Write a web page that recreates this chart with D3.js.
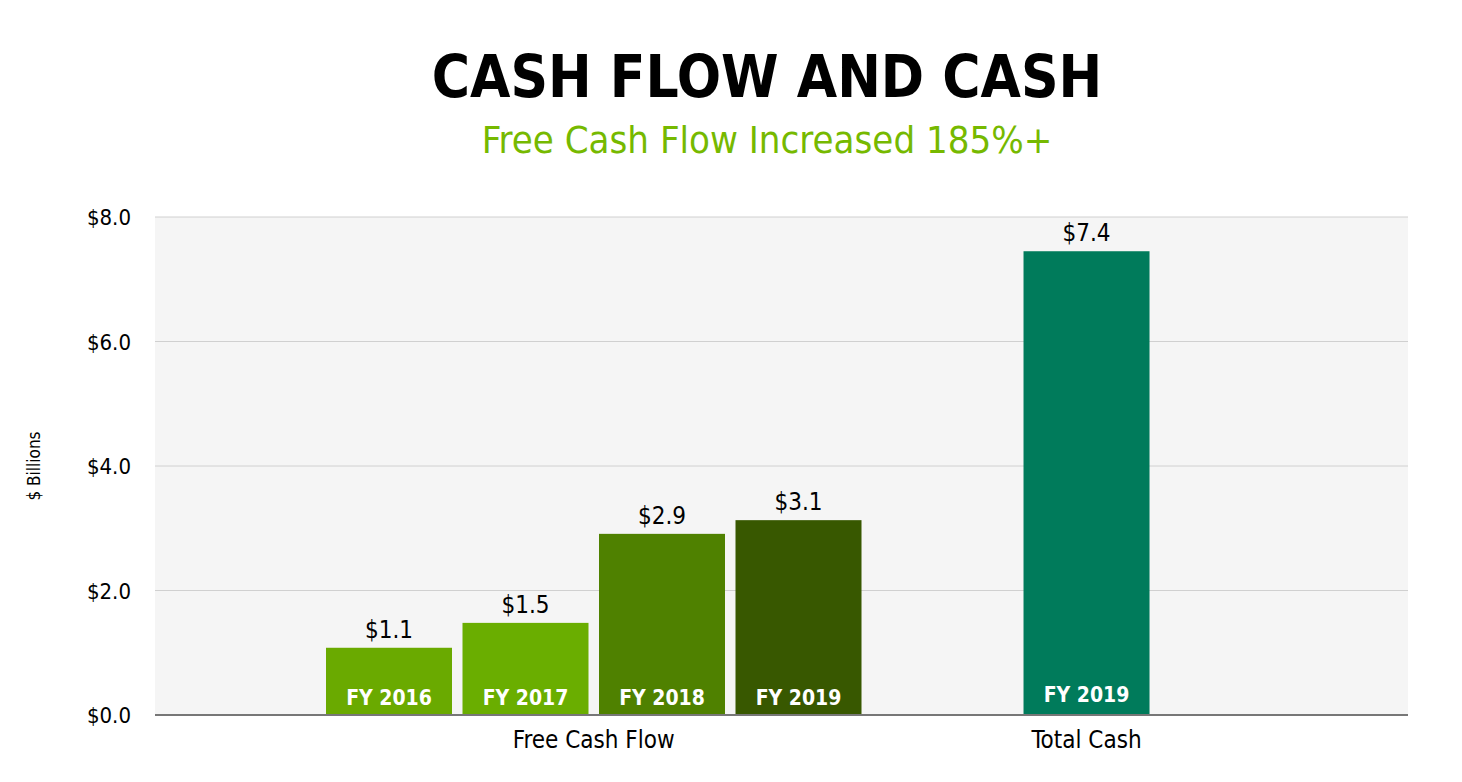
<!DOCTYPE html>
<html><head><meta charset="utf-8">
<script src="https://cdn.jsdelivr.net/npm/d3@7"></script>
<style>body{margin:0;background:#fff;font-family:"DejaVu Sans Condensed","DejaVu Sans",sans-serif}</style>
</head><body>
<script>
var labels = ["FY 2016", "FY 2017", "FY 2018", "FY 2019", "FY 2019"];
var values = [1.08, 1.48, 2.91, 3.13, 7.45];
var valueText = ["$1.1", "$1.5", "$2.9", "$3.1", "$7.4"];
var slots = [0, 1, 2, 3, 5.11];
var colors = ["#6aaa00", "#6aae00", "#4f8100", "#385800", "#007b5b"];
var groups = [{name: "Free Cash Flow", at: 1.5}, {name: "Total Cash", at: 5.11}];
var yTicks = [0, 2, 4, 6, 8];

var svg = d3.select("body").append("svg").attr("width", 1462).attr("height", 782);

var x = d3.scaleLinear().domain([0, 1]).range([389, 525.5]);
var y = d3.scaleLinear().domain([0, 8]).range([715, 217]);
var bw = 126;

svg.append("rect").attr("x", 155).attr("y", y(8)).attr("width", 1253).attr("height", y(0) - y(8)).attr("fill", "#f5f5f5");

svg.selectAll(".grid").data(yTicks.slice(1)).enter().append("line")
  .attr("x1", 155).attr("x2", 1408).attr("y1", y).attr("y2", y)
  .attr("stroke", "#d0d0d0").attr("stroke-width", 1);

svg.selectAll(".yt").data(yTicks).enter().append("text")
  .attr("x", 131).attr("y", function(d){ return y(d) + 8; })
  .attr("text-anchor", "end").attr("font-size", 22).attr("fill", "#000")
  .text(function(d){ return "$" + d.toFixed(1); });

svg.append("text").attr("transform", "translate(40,466) rotate(-90)")
  .attr("text-anchor", "middle").attr("font-size", 17).text("$ Billions");

svg.selectAll(".bar").data(values).enter().append("rect")
  .attr("x", function(d, i){ return x(slots[i]) - bw / 2; })
  .attr("y", function(d){ return y(d); })
  .attr("width", bw).attr("height", function(d){ return y(0) - y(d); })
  .attr("fill", function(d, i){ return colors[i]; });

svg.selectAll(".val").data(values).enter().append("text")
  .attr("x", function(d, i){ return x(slots[i]); })
  .attr("y", function(d){ return y(d) - 10; })
  .attr("text-anchor", "middle").attr("font-size", 24)
  .text(function(d, i){ return valueText[i]; });

svg.selectAll(".lab").data(labels).enter().append("text")
  .attr("x", function(d, i){ return x(slots[i]); })
  .attr("y", function(d, i){ return i == 4 ? 702 : 705; })
  .attr("text-anchor", "middle").attr("font-size", 21).attr("font-weight", "bold").attr("fill", "#fff")
  .text(function(d){ return d; });

svg.append("line").attr("x1", 155).attr("x2", 1408).attr("y1", y(0)).attr("y2", y(0))
  .attr("stroke", "#777").attr("stroke-width", 2);

svg.selectAll(".grp").data(groups).enter().append("text")
  .attr("x", function(d){ return x(d.at); }).attr("y", 748)
  .attr("text-anchor", "middle").attr("font-size", 24)
  .text(function(d){ return d.name; });

svg.append("text").attr("x", 767).attr("y", 97).attr("text-anchor", "middle")
  .attr("font-size", 58).attr("font-weight", "bold").text("CASH FLOW AND CASH");
svg.append("text").attr("x", 767).attr("y", 153).attr("text-anchor", "middle")
  .attr("font-size", 38).attr("fill", "#76b900").text("Free Cash Flow Increased 185%+");
</script>
</body></html>
